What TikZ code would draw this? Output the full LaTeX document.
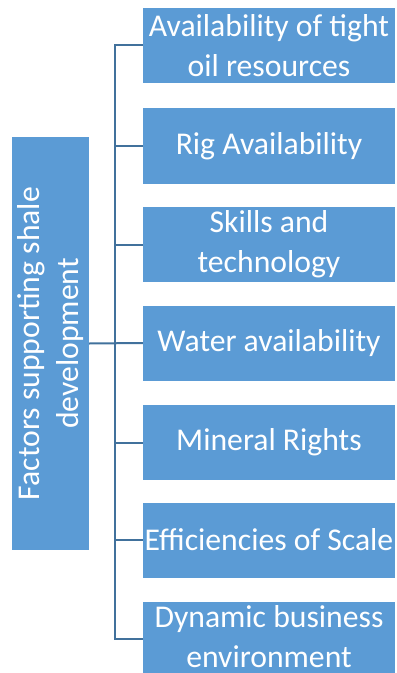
\documentclass[tikz,border=0pt]{standalone}
\usepackage{fontspec}
\setmainfont{Carlito}
\definecolor{boxblue}{RGB}{91,155,213}
\definecolor{lineblue}{RGB}{65,113,156}
\begin{document}
\begin{tikzpicture}[x=1bp,y=-1bp,
  itembox/.style={fill=boxblue,draw=none,text=white,minimum width=252bp,minimum height=75bp,
    inner sep=0pt,align=center,font=\fontsize{31.8}{40}\selectfont},
  itemtext/.style={text=white,inner sep=0pt,align=center,font=\fontsize{31.8}{40}\selectfont},
  mainbox/.style={fill=boxblue,draw=none,text=white,minimum width=413bp,minimum height=77bp,
    inner sep=0pt,align=center,rotate=90,font=\fontsize{31.8}{40}\selectfont},
  conn/.style={draw=lineblue,line width=2bp}]
\useasboundingbox (0,0) rectangle (396,673);
\node[mainbox] (L) at (50.5,343.5) {Factors supporting shale\\development};
\node[itembox] (b1) at (269,45.5) {Availability of tight\\oil resources};
\node[itembox] (b2) at (269,146) {Rig Availability};
\node[itembox] (b3) at (269,244.5) {Skills and\\technology};
\node[itembox] (b4) at (269,343) {Water availability};
\node[itembox] (b5) at (269,442.5) {Mineral Rights};
\node[itembox] (b6) at (269,540) {Efficiencies of Scale};
\node[itembox,minimum height=71bp] (b7) at (269,637.5) {};
\node[itemtext] (t7) at (269,636.5) {Dynamic business\\environment};
\coordinate (sp) at (115,0);
\draw[conn] (b1.west) -- (b1.west -| sp) -- (sp |- {(0,639)}) -- (b7.west |- {(0,639)});
\draw[conn] (L.south) -- (b4.west);
\foreach \i in {2,3,5,6} \draw[conn] (b\i.west) -- (b\i.west -| sp);
\end{tikzpicture}
\end{document}
